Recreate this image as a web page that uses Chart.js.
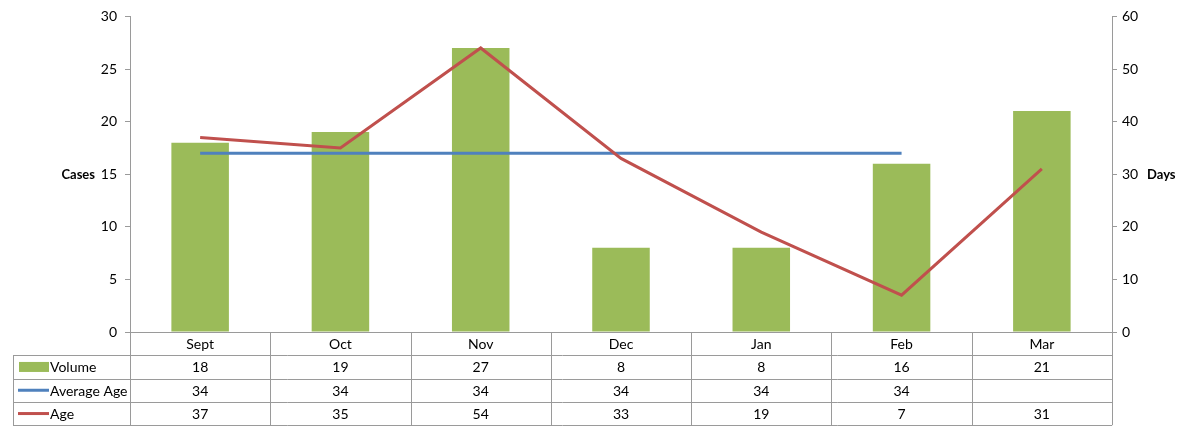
<!DOCTYPE html>
<html>
<head>
<meta charset="utf-8">
<script src="https://cdn.jsdelivr.net/npm/chart.js@4/dist/chart.umd.min.js"></script>
<style>
  body { margin: 0; background: #fff; }
  #wrap { width: 1183px; height: 426px; position: relative; }
</style>
</head>
<body>
<div id="wrap"><canvas id="chart"></canvas></div>
<script>
const months = ["Sept", "Oct", "Nov", "Dec", "Jan", "Feb", "Mar"];
const volume = [18, 19, 27, 8, 8, 16, 21];
const averageAge = [34, 34, 34, 34, 34, 34, null];
const age = [37, 35, 54, 33, 19, 7, 31];
const casesTicks = [0, 5, 10, 15, 20, 25, 30];
const daysTicks = [0, 10, 20, 30, 40, 50, 60];

const FONT = "Lato, 'Open Sans', sans-serif";
const GREEN = "#9BBB59";
const BLUE = "#4F81BD";
const RED = "#C0504D";
const LINE = "#9a9a9a";

// Draws the data table under the plot plus the horizontal axis titles
const tablePlugin = {
  id: "dataTable",
  afterDraw(chart) {
    const { ctx, chartArea, scales } = chart;
    const x = scales.x;
    const rowH = 23.3;
    const top = chartArea.bottom;
    const left = 13;
    const step = (chartArea.right - chartArea.left) / months.length;

    ctx.save();
    ctx.strokeStyle = LINE;
    ctx.lineWidth = 1;
    ctx.beginPath();
    // horizontal lines
    ctx.moveTo(chartArea.left, top + 0.5);
    ctx.lineTo(chartArea.right, top + 0.5);
    for (let r = 1; r <= 4; r++) {
      const y = Math.round(top + r * rowH) + 0.5;
      ctx.moveTo(left, y);
      ctx.lineTo(chartArea.right, y);
    }
    // vertical lines
    ctx.moveTo(left + 0.5, top + rowH);
    ctx.lineTo(left + 0.5, top + 4 * rowH);
    for (let i = 0; i <= months.length; i++) {
      const vx = Math.round(chartArea.left + i * step) + 0.5;
      ctx.moveTo(vx, top);
      ctx.lineTo(vx, top + 4 * rowH);
    }
    ctx.stroke();

    ctx.fillStyle = "#000";
    ctx.font = "14px " + FONT;
    ctx.textAlign = "center";
    ctx.textBaseline = "middle";
    const rows = [months, volume, averageAge, age];
    rows.forEach((vals, r) => {
      const cy = top + r * rowH + rowH / 2 + 1;
      vals.forEach((v, i) => {
        if (v === null) return;
        ctx.fillText(String(v), x.getPixelForValue(i), cy);
      });
    });

    // legend keys
    const names = ["Volume", "Average Age", "Age"];
    ctx.textAlign = "left";
    names.forEach((n, r) => {
      const cy = top + (r + 1) * rowH + rowH / 2;
      if (r === 0) {
        ctx.fillStyle = GREEN;
        ctx.fillRect(19, cy - 5, 30, 10);
      } else {
        ctx.strokeStyle = r === 1 ? BLUE : RED;
        ctx.lineWidth = 3;
        ctx.beginPath();
        ctx.moveTo(18, cy);
        ctx.lineTo(49, cy);
        ctx.stroke();
      }
      ctx.fillStyle = "#000";
      ctx.fillText(n, 50, cy + 1);
    });

    // axis titles
    ctx.font = "bold 13px " + FONT;
    const ty = scales.y.getPixelForValue(15) + 1;
    ctx.textAlign = "right";
    ctx.fillText("Cases", 95, ty);
    ctx.textAlign = "left";
    ctx.fillText("Days", 1147, ty);
    ctx.restore();
  }
};

new Chart(document.getElementById("chart"), {
  data: {
    labels: months,
    datasets: [
      {
        type: "line",
        label: "Average Age",
        data: averageAge,
        yAxisID: "y2",
        borderColor: BLUE,
        borderWidth: 3,
        pointRadius: 0,
        order: 1,
      },
      {
        type: "line",
        label: "Age",
        data: age,
        yAxisID: "y2",
        borderColor: RED,
        borderWidth: 3,
        pointRadius: 0,
        order: 0,
      },
      {
        type: "bar",
        label: "Volume",
        data: volume,
        yAxisID: "y",
        backgroundColor: GREEN,
        barPercentage: 0.41,
        categoryPercentage: 1,
        order: 2,
      },
    ],
  },
  options: {
    responsive: true,
    maintainAspectRatio: false,
    animation: false,
    layout: { padding: { top: 15, bottom: 94, left: 0, right: 0 } },
    plugins: {
      legend: { display: false },
      tooltip: { enabled: false },
    },
    scales: {
      x: { display: false },
      y: {
        position: "left",
        min: 0,
        max: 30,
        afterBuildTicks: (s) => { s.ticks = casesTicks.map((v) => ({ value: v })); },
        afterFit: (s) => { s.width = 130; },
        ticks: { color: "#000", font: { family: FONT, size: 14 }, padding: 8 },
        grid: { drawOnChartArea: false, tickLength: 5, color: LINE },
        border: { color: LINE },
      },
      y2: {
        position: "right",
        min: 0,
        max: 60,
        afterBuildTicks: (s) => { s.ticks = daysTicks.map((v) => ({ value: v })); },
        afterFit: (s) => { s.width = 71; },
        ticks: { color: "#000", font: { family: FONT, size: 14 }, padding: 5 },
        grid: { drawOnChartArea: false, tickLength: 5, color: LINE },
        border: { color: LINE },
      },
    },
  },
  plugins: [tablePlugin],
});
</script>
</body>
</html>
